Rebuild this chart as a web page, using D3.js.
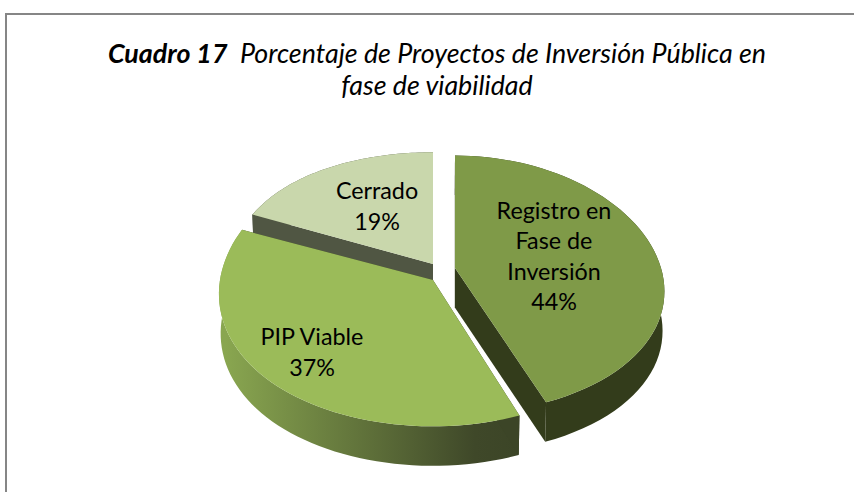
<!DOCTYPE html>
<html><head><meta charset="utf-8">
<script src="https://cdnjs.cloudflare.com/ajax/libs/d3/7.8.5/d3.min.js"></script>
<style>html,body{margin:0;padding:0;background:#fff}svg{display:block}text{font-family:Lato,"Open Sans",sans-serif;fill:#000}</style>
</head><body><svg id="c" width="854" height="492"></svg>
<script>
const categories = ["Registro en Fase de Inversión", "PIP Viable", "Cerrado"];
const values = [44, 37, 19];
const labelLines = [["Registro en", "Fase de", "Inversión", "44%"], ["PIP Viable", "37%"], ["Cerrado", "19%"]];
const topColors = ["#7f9a48", "#9bbb59", "#c9d7ac"];
const faceColors = ["#333c1b", "#3c4527", "#505643"];
const titleBold = "Cuadro 17";
const titleRest = "  Porcentaje de Proyectos de Inversión Pública en";
const titleLine2 = "fase de viabilidad";

const svg = d3.select("#c");
const defs = svg.append("defs");
const grad = defs.append("linearGradient").attr("id", "sideGrad").attr("gradientUnits", "userSpaceOnUse")
  .attr("x1", 225).attr("x2", 519).attr("y1", 0).attr("y2", 0);
grad.append("stop").attr("offset", 0).attr("stop-color", "#89a650");
grad.append("stop").attr("offset", 0.85).attr("stop-color", "#3f4829");
grad.append("stop").attr("offset", 1).attr("stop-color", "#3c4527");

svg.append("path").attr("d", "M6,492V14H854").attr("fill", "none").attr("stroke", "#868686").attr("stroke-width", 2);

const baseX = 433, depth = 39.5;
// projection of each exploded slice: apex, radii, perspective in x and y
const geom = [
  { x: 455, y: 268, rx: 206, ry: 127, px: 0.18, py: 0.13 },
  { x: 433, y: 280, rx: 213, ry: 139, px: 0.10, py: 0.05 },
  { x: 433, y: 264, rx: 205, ry: 152, px: 0.15, py: 0.36 }
];
const labelPos = [[554, 219], [312, 345], [377, 199]];
const lineGap = [30.3, 30.5, 31];

const project = (a, r, i) => {
  const g = geom[i], u = Math.sin(a) * r, v = -Math.cos(a) * r;
  return [g.x + g.rx * u / (1 - g.px * v), g.y + g.ry * v / (1 - g.py * v)];
};
const lower = p => [baseX + (p[0] - baseX) * 0.992, p[1] + depth];
const line = d3.line();
const pie = d3.pie().sort(null).startAngle(0).endAngle(2 * Math.PI)(values);
const rim = (s, i) => d3.range(0, 61).map(n => project(s.startAngle + (s.endAngle - s.startAngle) * n / 60, 1, i));

[2, 0, 1].forEach(i => {
  const s = pie[i], g = svg.append("g"), arc = rim(s, i), apex = project(0, 0, i);
  const sideFill = i === 1 ? "url(#sideGrad)" : faceColors[i];
  g.append("path").attr("d", line(arc.concat(arc.map(lower).reverse())) + "Z").attr("fill", sideFill);
  [arc[0], arc[arc.length - 1]].forEach(e => {
    g.append("path").attr("d", line([apex, e, lower(e), lower(apex)]) + "Z").attr("fill", faceColors[i]);
  });
  g.append("path").attr("d", line([apex].concat(arc)) + "Z").attr("fill", topColors[i]);
});

labelLines.forEach((lines, i) => {
  const t = svg.append("text").attr("text-anchor", "middle").attr("font-size", 23.3);
  lines.forEach((l, j) => t.append("tspan").attr("x", labelPos[i][0]).attr("y", labelPos[i][1] + j * lineGap[i]).text(l));
});

const title = svg.append("text").attr("text-anchor", "middle").attr("font-size", 26.8).attr("font-style", "italic");
const l1 = title.append("tspan").attr("x", 437).attr("y", 63);
l1.append("tspan").attr("font-weight", 700).text(titleBold);
l1.append("tspan").style("white-space", "pre").text(titleRest);
title.append("tspan").attr("x", 437).attr("y", 95).text(titleLine2);
</script></body></html>
